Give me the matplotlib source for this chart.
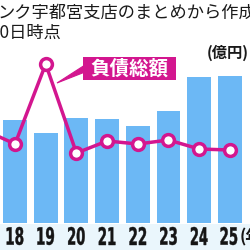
import matplotlib
matplotlib.use("Agg")
import matplotlib.pyplot as plt
from matplotlib.patches import Rectangle, Polygon, PathPatch
from matplotlib.textpath import TextPath
from matplotlib.font_manager import FontProperties
from matplotlib.transforms import Affine2D

years = ["18", "19", "20", "21", "22", "23", "24", "25"]
counts = [103, 90, 105, 104, 97, 112, 146, 147]
debt_years = [-1, 0, 1, 2, 3, 4, 5, 6, 7]
debt = [93, 79, 159, 70, 82, 79, 83, 74, 73]

MAG = "#d3168f"
BAR = "#6cb8f5"
JP = ["Noto Sans CJK JP", "DejaVu Sans"]
W = H = 250

fig = plt.figure(figsize=(2.5, 2.5), dpi=100)
fig.patch.set_facecolor("white")
ax = fig.add_axes([0, 0, 1, 1])
ax.set_xlim(-0.489, 7.655)
ax.set_ylim(-27, 223)
ax.axis("off")

pix = Affine2D().scale(1 / W, 1 / H) + fig.transFigure  # pixel coords, origin bottom-left

def P(x, y):
    return (x, H - y)

# light band behind year labels
fig.patches.append(Rectangle(P(0, 250), 250, 26, transform=pix,
                             facecolor="#eaf6fc", edgecolor="none", zorder=0))

x = list(range(len(years)))
ax.bar(x, counts, width=0.78, color=BAR, zorder=1)
ax.plot(debt_years, debt, color=MAG, lw=2.5, marker="o", ms=8.5,
        mfc="white", mec=MAG, mew=2.5, zorder=3)

# condensed year labels drawn as scaled text paths
fp = FontProperties(family=["Liberation Sans Narrow", "DejaVu Sans"], weight="bold")
for i, lab in enumerate(years):
    tp = TextPath((0, 0), lab, size=10, prop=fp)
    ext = tp.get_extents()
    sy = 18.0 / ext.height
    sx = 16.5 / ext.width
    cx_data = ax.transData.transform((i, 0))[0] / fig.dpi * 100  # pixels
    cx = cx_data if i < 7 else cx_data - 1
    tr = Affine2D().translate(-ext.x0 - ext.width / 2, -ext.y0).scale(sx, sy).translate(cx, H - 245) + pix
    fig.patches.append(PathPatch(tp, transform=tr, facecolor="#151515", edgecolor="#151515",
                                 lw=0.3, zorder=5))
fig.text(240 / W, 1 - 237 / H, "(年)", ha="left", va="center", fontsize=12,
         fontweight="bold", family=JP, color="#151515")

# callout
fig.patches.append(Polygon([P(85, 65), P(85, 72), P(57, 83)], closed=True,
                           transform=pix, facecolor=MAG, edgecolor=MAG, lw=0.8, zorder=4))
fig.patches.append(Rectangle(P(83, 80), 93, 23, transform=pix,
                             facecolor=MAG, edgecolor="none", zorder=4))
fig.text(129.5 / W, 1 - 68.5 / H, "負債総額", ha="center", va="center", fontsize=14,
         fontweight="bold", family=JP, color="white", zorder=6)

fig.text(-2 / W, 1 - 13 / H, "ンク宇都宮支店のまとめから作成。", ha="left", va="center",
         fontsize=12.4, family=JP, color="#1a1a1a")
fig.text(-9 / W, 1 - 33 / H, "30日時点", ha="left", va="center",
         fontsize=12.4, family=JP, color="#1a1a1a")
fig.text(207 / W, 1 - 53 / H, "(億円)", ha="left", va="center",
         fontsize=11, fontweight="bold", family=JP, color="#1a1a1a")

fig.savefig("out.png", dpi=100)
